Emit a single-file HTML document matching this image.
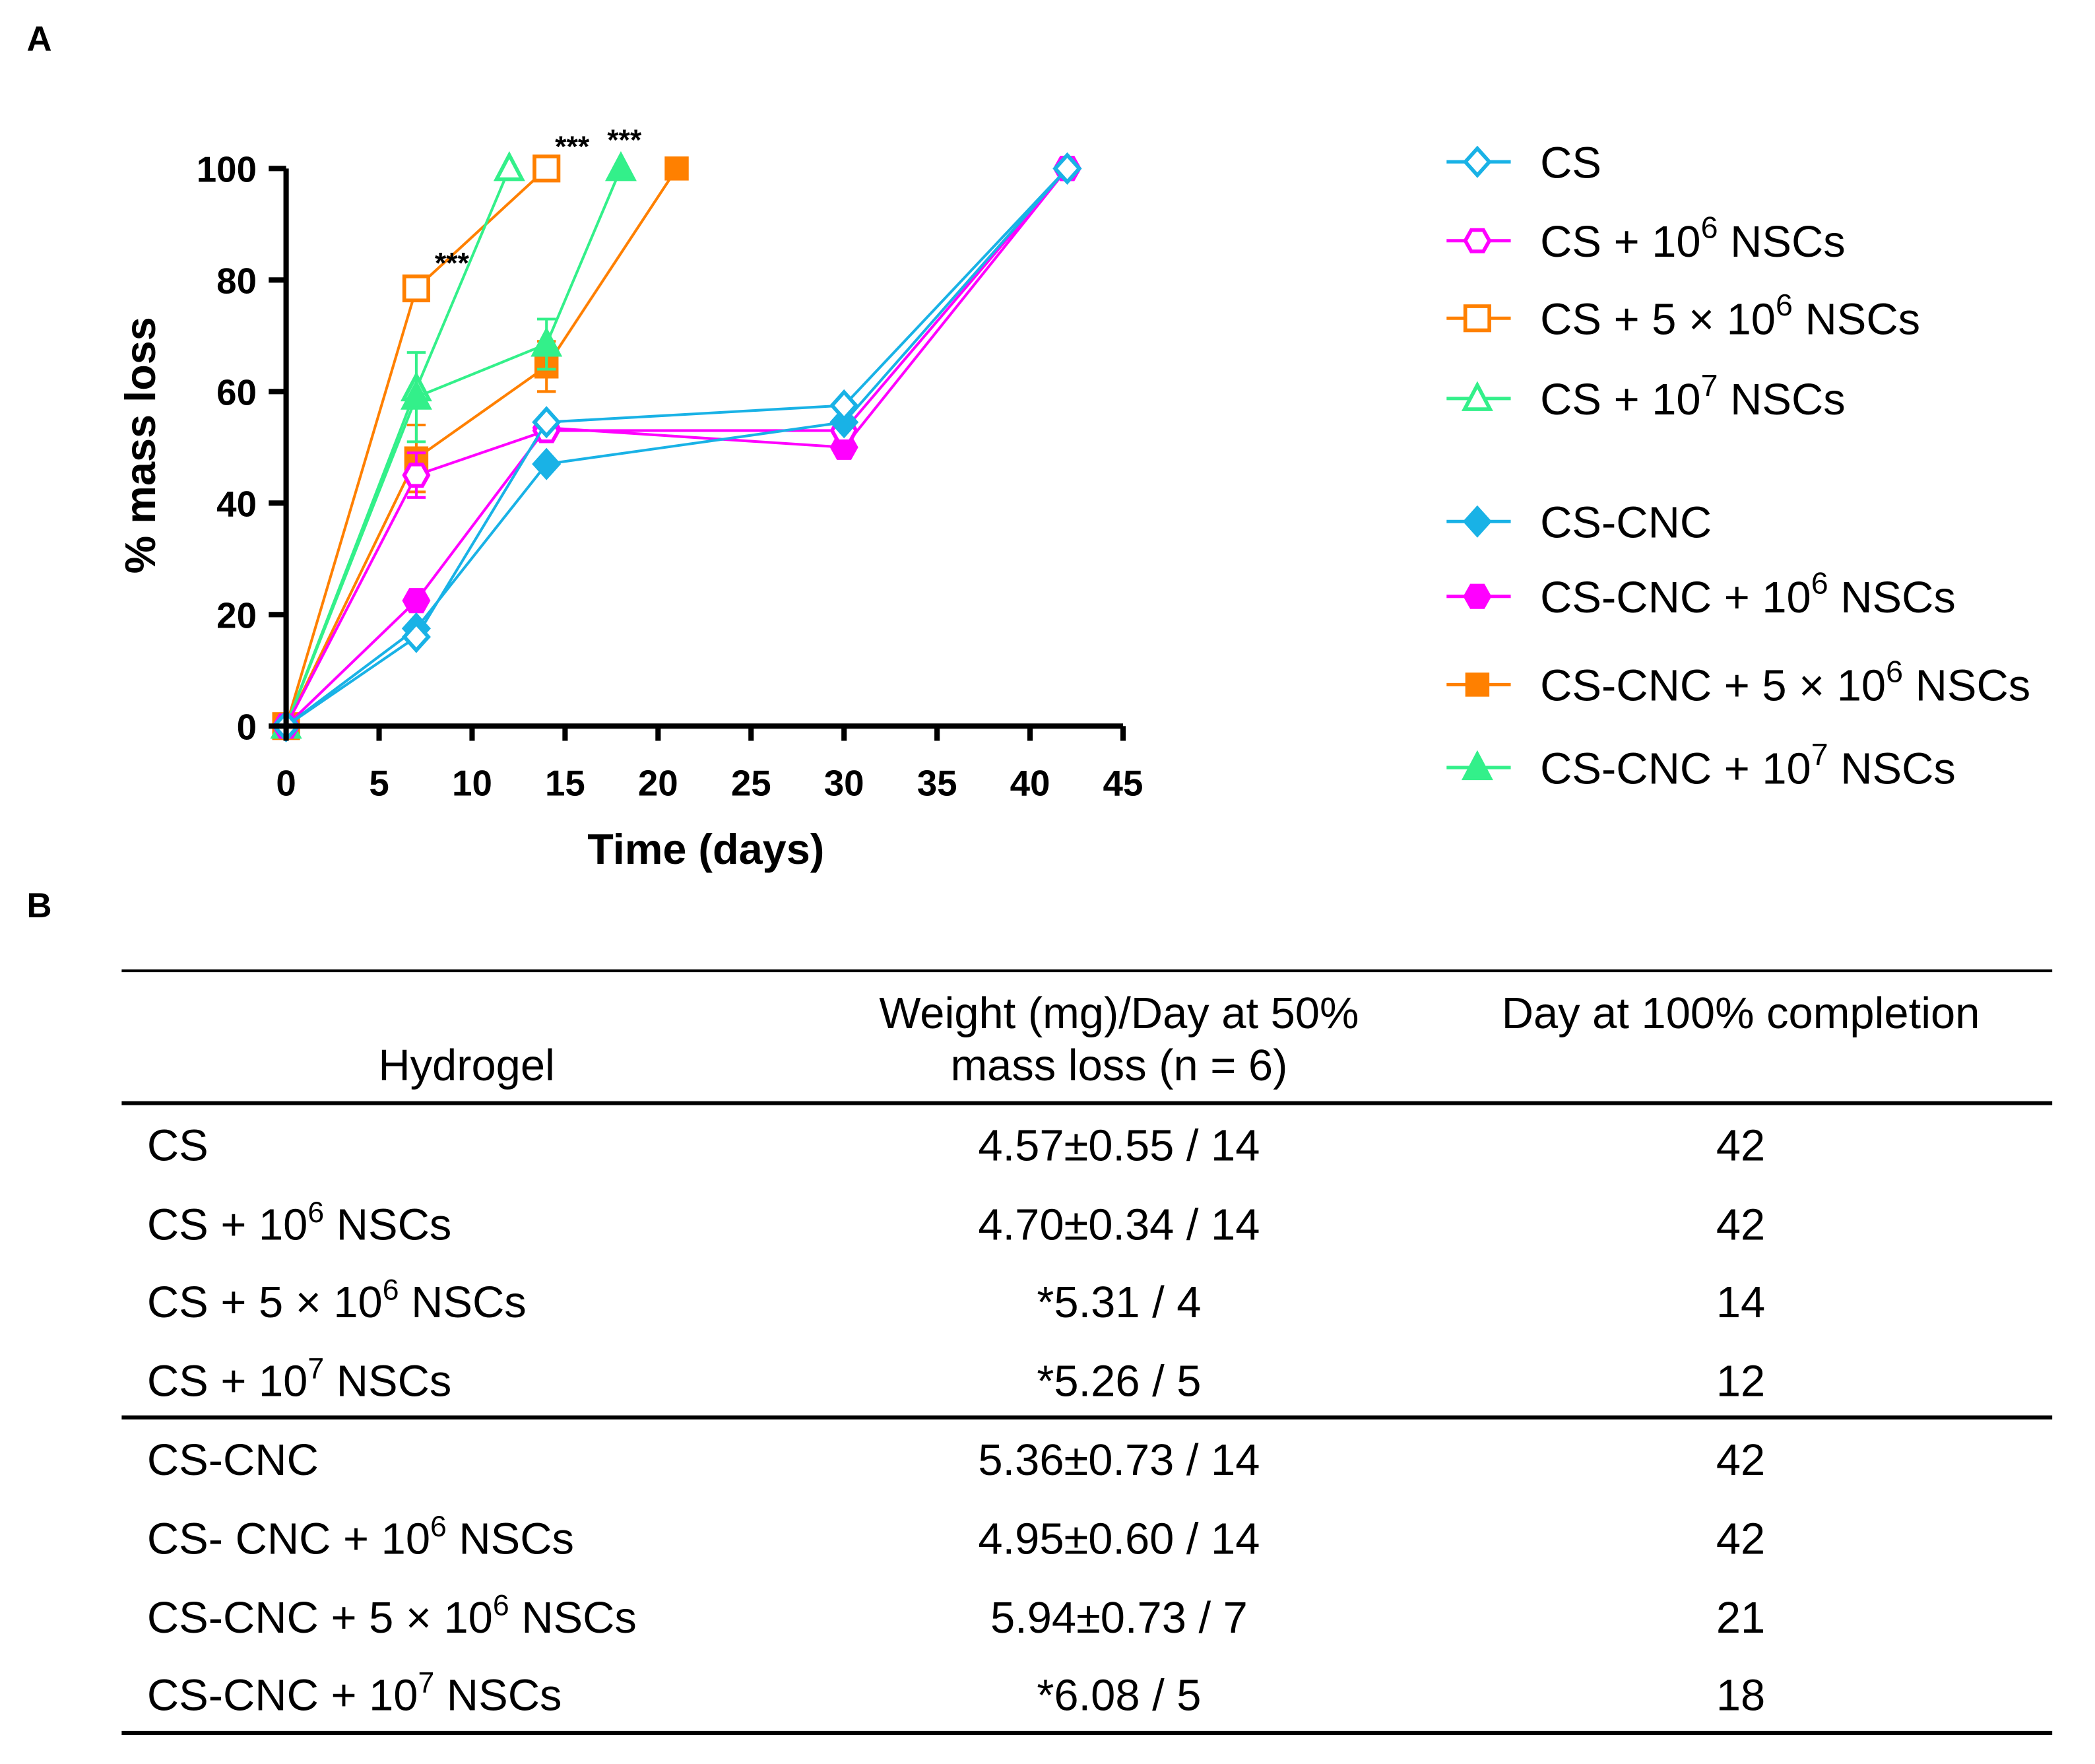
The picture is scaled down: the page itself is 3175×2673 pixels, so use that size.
<!DOCTYPE html>
<html><head><meta charset="utf-8"><style>
html,body{margin:0;padding:0;background:#fff}
svg{display:block}
text{font-family:"Liberation Sans",Arial,sans-serif;fill:#000}
</style></head><body>
<svg id="fig" width="3175" height="2673" viewBox="0 0 1567 1319.2" xmlns="http://www.w3.org/2000/svg">
<text x="20" y="38" font-size="26" font-weight="bold">A</text>
<text x="20" y="686" font-size="26" font-weight="bold">B</text>
<g id="chart"></g>
<g id="legend"></g>
<g id="table"></g>
</svg>
<script>
const NS='http://www.w3.org/2000/svg';
const xTicks=[0,5,10,15,20,25,30,35,40,45];
const yTicks=[0,20,40,60,80,100];
const csX=[0,7,14,30,42]; const csY=[0,16,54.5,57.5,100];
const cs6X=[0,7,14,30,42]; const cs6Y=[0,45,53,53,100];
const cs5e6X=[0,7,14]; const cs5e6Y=[0,78.5,100];
const cs7X=[0,7,12]; const cs7Y=[0,60.5,100];
const cncX=[0,7,14,30,42]; const cncY=[0,17.5,47,54.5,100];
const cnc6X=[0,7,14,30,42]; const cnc6Y=[0,22.5,53.5,50,100];
const cnc5e6X=[0,7,14,21]; const cnc5e6Y=[0,48,64.5,100]; const cnc5e6Err=[0,6,4.5,0];
const cnc7X=[0,7,14,18]; const cnc7Y=[0,59,68.5,100]; const cnc7Err=[0,8,4.5,0];
const cs6Err=[0,4,0,0,0];
const seriesNames=['cs','cs-1e6','cs-5e6','cs-1e7','cs-cnc','cs-cnc-1e6','cs-cnc-5e6','cs-cnc-1e7'];
const BLUE='#19b2e6',MAG='#ff00ff',ORA='#ff8000',GRN='#33f08a';
const X0=214,X1=840,Y0=543,Y1=126;
const sx=v=>X0+(v-0)/45*(X1-X0);
const sy=v=>Y0-(v/100)*(Y0-Y1);
function el(tag,attrs,parent,txt){const e=document.createElementNS(NS,tag);for(const k in attrs)e.setAttribute(k,attrs[k]);if(txt!==undefined)e.textContent=txt;parent.appendChild(e);return e;}
const chart=document.getElementById('chart');
function marker(shape,filled,color,x,y,g){
  const f=filled?color:'#fff';const s=2.8;let m;
  if(shape==='diamond')m=el('polygon',{points:`${x},${y-10} ${x+9},${y} ${x},${y+10} ${x-9},${y}`,fill:f,stroke:color,'stroke-width':s},g);
  else if(shape==='hex')m=el('polygon',{points:`${x-9},${y} ${x-4.5},${y-8} ${x+4.5},${y-8} ${x+9},${y} ${x+4.5},${y+8} ${x-4.5},${y+8}`,fill:f,stroke:color,'stroke-width':s},g);
  else if(shape==='square')m=el('rect',{x:x-9,y:y-9,width:18,height:18,fill:f,stroke:color,'stroke-width':filled?0:2.8},g);
  else m=el('polygon',{points:`${x},${y-10} ${x+9.5},${y+8} ${x-9.5},${y+8}`,fill:f,stroke:color,'stroke-width':s},g);
  return m;
}
function drawSeries(i,xs,ys,color,shape,filled,errs){
  const g=el('g',{},chart);
  
  
  if(errs){xs.forEach((x,j)=>{if(errs[j]>0){const e=el('path',{d:`M${sx(x)},${sy(ys[j]-errs[j])}V${sy(ys[j]+errs[j])}M${sx(x)-7},${sy(ys[j]-errs[j])}h14M${sx(x)-7},${sy(ys[j]+errs[j])}h14`,stroke:color,'stroke-width':2,fill:'none'},g);
    
    }});}
  const l=el('polyline',{points:xs.map((x,j)=>sx(x)+','+sy(ys[j])).join(' '),fill:'none',stroke:color,'stroke-width':2},g);
  
  
  xs.forEach((x,j)=>{const m=marker(shape,filled,color,sx(x),sy(ys[j]),g);
    
    });
}
drawSeries(2,cs5e6X,cs5e6Y,ORA,'square',false);
drawSeries(3,cs7X,cs7Y,GRN,'tri',false);
drawSeries(6,cnc5e6X,cnc5e6Y,ORA,'square',true,cnc5e6Err);
drawSeries(7,cnc7X,cnc7Y,GRN,'tri',true,cnc7Err);
drawSeries(5,cnc6X,cnc6Y,MAG,'hex',true);
drawSeries(1,cs6X,cs6Y,MAG,'hex',false,cs6Err);
drawSeries(4,cncX,cncY,BLUE,'diamond',true);
drawSeries(0,csX,csY,BLUE,'diamond',false);
const ax=el('path',{d:`M${X0},${Y1}V${Y0}H${X1}`,stroke:'#000','stroke-width':4,fill:'none'},chart);


xTicks.forEach(v=>{el('line',{x1:sx(v),x2:sx(v),y1:Y0,y2:Y0+11,stroke:'#000','stroke-width':4},chart);
  const t=el('text',{x:sx(v),y:Y0+52,'font-size':27,'font-weight':'bold','text-anchor':'middle'},chart,String(v));
  
  });
yTicks.forEach(v=>{el('line',{x1:X0-13,x2:X0,y1:sy(v),y2:sy(v),stroke:'#000','stroke-width':4},chart);
  const t=el('text',{x:X0-22,y:sy(v)+10,'font-size':27,'font-weight':'bold','text-anchor':'end'},chart,String(v));
  
  });
const xt=el('text',{x:528,y:646,'font-size':32,'font-weight':'bold','text-anchor':'middle'},chart,'Time (days)');


const yt=el('text',{x:0,y:0,'font-size':32,'font-weight':'bold','text-anchor':'middle',transform:'translate(116,333) rotate(-90)'},chart,'% mass loss');


[[338,204],[428,117],[467,112]].forEach(p=>{const t=el('text',{x:p[0],y:p[1],'font-size':22,'font-weight':'bold','text-anchor':'middle'},chart,'***');
  
  });
const legend=document.getElementById('legend');
const legItems=[
 [BLUE,'diamond',false,121,'CS',null,''],
 [MAG,'hex',false,180,'CS + 10','6',' NSCs'],
 [ORA,'square',false,238,'CS + 5 \u00d7 10','6',' NSCs'],
 [GRN,'tri',false,298,'CS + 10','7',' NSCs'],
 [BLUE,'diamond',true,390,'CS-CNC',null,''],
 [MAG,'hex',true,446,'CS-CNC + 10','6',' NSCs'],
 [ORA,'square',true,512,'CS-CNC + 5 \u00d7 10','6',' NSCs'],
 [GRN,'tri',true,574,'CS-CNC + 10','7',' NSCs']];
legItems.forEach(it=>{
  const g=el('g',{},legend);
  
  
  el('line',{x1:1082,x2:1130,y1:it[3],y2:it[3],stroke:it[0],'stroke-width':2.5},g);
  marker(it[1],it[2],it[0],1105,it[3],g);
  const t=el('text',{x:1152,y:it[3]+12,'font-size':33},g);
  t.appendChild(document.createTextNode(it[4]));
  if(it[5]){el('tspan',{'font-size':23,dy:-14},t,it[5]);el('tspan',{dy:14},t,it[6]);}
});
const table=document.getElementById('table');
[[726,2],[825,3],[1060,3],[1296,3]].forEach(r=>{const l=el('line',{x1:91,x2:1535,y1:r[0],y2:r[0],stroke:'#000','stroke-width':r[1]},table);
  
  });
function tt(x,y,anchor,parts,name){const t=el('text',{x:x,y:y,'font-size':33,'text-anchor':anchor},table);
  
  
  parts.forEach(p=>{if(typeof p==='string')t.appendChild(document.createTextNode(p));else{el('tspan',{'font-size':22,dy:-13},t,p[0]);el('tspan',{dy:13},t,'\u200b');}});}
tt(349,808,'middle',['Hydrogel'],'header-hydrogel');
tt(837,769,'middle',['Weight (mg)/Day at 50%'],'header-weight');
tt(837,808,'middle',['mass loss (n = 6)'],'header-weight-2');
tt(1302,769,'middle',['Day at 100% completion'],'header-day');
const rowNames=[['CS'],['CS + 10',['6'],' NSCs'],['CS + 5 \u00d7 10',['6'],' NSCs'],['CS + 10',['7'],' NSCs'],['CS-CNC'],['CS- CNC + 10',['6'],' NSCs'],['CS-CNC + 5 \u00d7 10',['6'],' NSCs'],['CS-CNC + 10',['7'],' NSCs']];
const weights=['4.57\u00b10.55 / 14','4.70\u00b10.34 / 14','*5.31 / 4','*5.26 / 5','5.36\u00b10.73 / 14','4.95\u00b10.60 / 14','5.94\u00b10.73 / 7','*6.08 / 5'];
const days=['42','42','14','12','42','42','21','18'];
const rowY=[857,916,974,1033,1092,1151,1210,1268];
rowY.forEach((y,i)=>{tt(110,y+11,'start',rowNames[i],'row-hydrogel');tt(837,y+11,'middle',[weights[i]],'row-weight');tt(1302,y+11,'middle',[days[i]],'row-day');});
</script>
</body></html>
